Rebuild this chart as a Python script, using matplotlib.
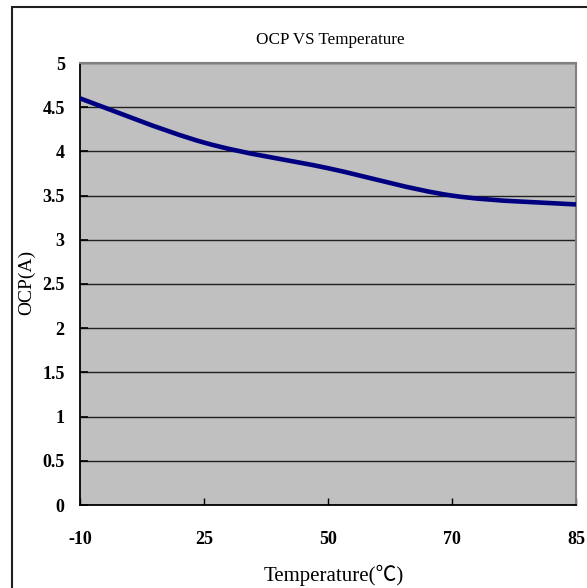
import matplotlib
matplotlib.use("Agg")
import matplotlib.pyplot as plt
from matplotlib.path import Path
from matplotlib.patches import PathPatch, Rectangle
import numpy as np

categories = ["-10", "25", "50", "70", "85"]
ocp_values = [4.60, 4.10, 3.81, 3.50, 3.40]
y_ticks = [0, 0.5, 1, 1.5, 2, 2.5, 3, 3.5, 4, 4.5, 5]
y_tick_labels = ["0", "0.5", "1", "1.5", "2", "2.5", "3", "3.5", "4", "4.5", "5"]

W, H = 587, 588
fig = plt.figure(figsize=(W / 100, H / 100), dpi=100)
fig.patch.set_facecolor("white")

serif = ["Liberation Serif", "DejaVu Serif"]

# outer chart frame (only left and top edges fall inside the image)
fig.add_artist(Rectangle((11.5 / W, -0.05), 1.2, (1 - 6.5 / H) + 0.05,
                         transform=fig.transFigure, fill=False,
                         edgecolor="#202020", linewidth=1.5, clip_on=False))

left, right, top, bottom = 80, 576, 63, 505
ax = fig.add_axes([left / W, 1 - bottom / H, (right - left) / W, (bottom - top) / H])
ax.set_facecolor("#C0C0C0")

x = np.arange(len(categories))
y = np.array(ocp_values)

# Excel-style smoothed line (Catmull-Rom Bezier)
pts = np.column_stack([x, y])
ext = np.vstack([pts[0], pts, pts[-1]])
verts = [tuple(pts[0])]
codes = [Path.MOVETO]
for i in range(len(pts) - 1):
    p0, p1, p2, p3 = ext[i], ext[i + 1], ext[i + 2], ext[i + 3]
    c1 = p1 + (p2 - p0) / 6
    c2 = p2 - (p3 - p1) / 6
    verts += [tuple(c1), tuple(c2), tuple(p2)]
    codes += [Path.CURVE4] * 3
ax.add_patch(PathPatch(Path(verts, codes), fill=False, edgecolor="#000080",
                       linewidth=3.3, capstyle="butt", joinstyle="round", zorder=3))

ax.set_xlim(0, len(categories) - 1)
ax.set_ylim(0, 5)
ax.set_xticks(x)
ax.set_xticklabels(categories, fontfamily=serif, fontsize=13, fontweight="bold")
ax.set_yticks(y_ticks)
ax.set_yticklabels(y_tick_labels, fontfamily=serif, fontsize=13, fontweight="bold")
ax.yaxis.grid(True, color="#202020", linewidth=1.0)
ax.set_axisbelow(True)
ax.tick_params(axis="x", direction="in", length=5, width=1, pad=19, color="black")
ax.tick_params(axis="y", direction="in", length=6, width=1.2, pad=11, color="black")

for s in ["top", "right"]:
    ax.spines[s].set_color("#808080")
    ax.spines[s].set_linewidth(1.5)
for s in ["left", "bottom"]:
    ax.spines[s].set_color("black")
    ax.spines[s].set_linewidth(1.3)

fig.text(330 / W, 1 - 40 / H, "OCP VS Temperature", ha="center", va="center",
         fontfamily=serif, fontsize=12.3)
fig.text(27 / W, 1 - 282 / H, "OCP(A)", ha="center", va="center", rotation=90,
         fontfamily=serif, fontsize=14)
fig.text(334 / W, 1 - 575 / H, "Temperature(\u2103)", ha="center", va="center",
         fontfamily=["Liberation Serif", "Noto Sans CJK SC", "DejaVu Sans"], fontsize=15)

fig.savefig("out.png", dpi=100)
